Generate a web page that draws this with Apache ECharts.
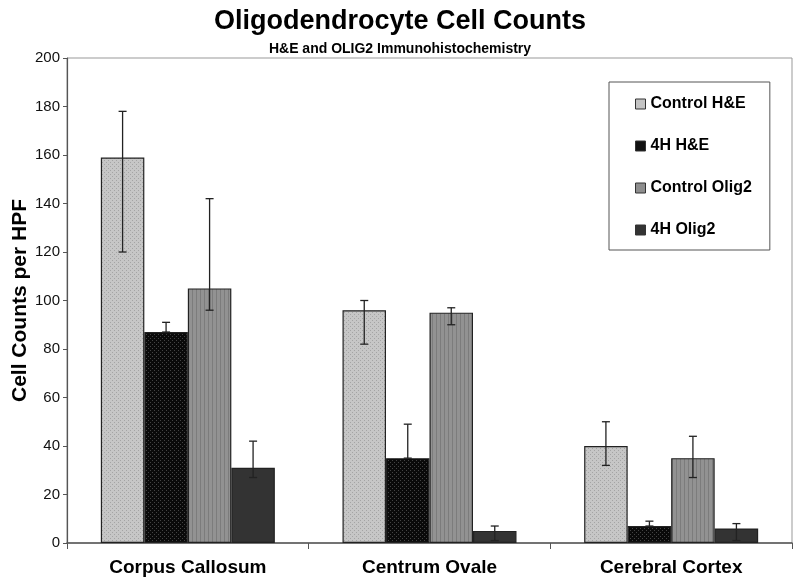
<!DOCTYPE html>
<html><head><meta charset="utf-8">
<script src="https://cdn.jsdelivr.net/npm/echarts@6/dist/echarts.min.js"></script>
<style>html,body{margin:0;padding:0;background:#fff}#c{width:800px;height:584px}</style>
</head><body><div id="c"></div>
<script>
const categories = ['Corpus Callosum', 'Centrum Ovale', 'Cerebral Cortex'];
const seriesNames = ['Control H&E', '4H H&E', 'Control Olig2', '4H Olig2'];
const controlHE = [159, 96, 40];
const h4HE = [87, 35, 7];
const controlOlig2 = [105, 95, 35];
const h4Olig2 = [31, 5, 6];
const errLow = [[120, 82, 32], [87, 35, 7], [96, 90, 27], [27, 1, 1]];
const errHigh = [[178, 100, 50], [91, 49, 9], [142, 97, 44], [42, 7, 8]];
const yTicks = [0, 20, 40, 60, 80, 100, 120, 140, 160, 180, 200];

function pattern(bg, fg, kind) {
  const c = document.createElement('canvas');
  c.width = 4; c.height = 4;
  const g = c.getContext('2d');
  g.fillStyle = bg; g.fillRect(0, 0, 4, 4);
  g.fillStyle = fg;
  if (kind === 'dots') { g.fillRect(0, 0, 1, 1); g.fillRect(2, 2, 1, 1); }
  else if (kind === 'stripes') { g.fillRect(0, 0, 1, 4); }
  return c;
}
const fills = [
  {image: pattern('#c6c6c6', '#a4a4a4', 'dots'), repeat: 'repeat'},
  {image: pattern('#0a0a0a', '#444', 'dots'), repeat: 'repeat'},
  {image: pattern('#929292', '#7c7c7c', 'stripes'), repeat: 'repeat'},
  '#333333'
];
const legendColors = ['#c4c4c4', '#111111', '#8e8e8e', '#333333'];
const values = [controlHE, h4HE, controlOlig2, h4Olig2];
const GAP = 0.28;

const chart = echarts.init(document.getElementById('c'), null, {renderer: 'canvas'});
const series = values.map((v, i) => ({
  name: seriesNames[i], type: 'bar', data: v,
  barGap: '0%', barCategoryGap: (GAP * 100) + '%',
  itemStyle: {color: fills[i], borderColor: '#222', borderWidth: 1.2},
  emphasis: {disabled: true}
}));
values.forEach((v, i) => {
  series.push({
    type: 'custom', name: seriesNames[i] + ' err', z: 10,
    data: categories.map((c, k) => [k, errLow[i][k], errHigh[i][k]]),
    renderItem: function (params, api) {
      const k = api.value(0);
      const catW = api.size([1, 0])[0];
      const bw = catW * (1 - GAP) / 4;
      const lo = api.coord([k, api.value(1)]);
      const hi = api.coord([k, api.value(2)]);
      const x = lo[0] + (i - 1.5) * bw;
      const cap = 4;
      const st = {stroke: '#222', lineWidth: 1.3};
      return {type: 'group', children: [
        {type: 'line', shape: {x1: x, y1: lo[1], x2: x, y2: hi[1]}, style: st},
        {type: 'line', shape: {x1: x - cap, y1: hi[1], x2: x + cap, y2: hi[1]}, style: st},
        {type: 'line', shape: {x1: x - cap, y1: lo[1], x2: x + cap, y2: lo[1]}, style: st}
      ]};
    },
    silent: true
  });
});

chart.setOption({
  animation: false,
  backgroundColor: '#fff',
  title: [
    {text: 'Oligodendrocyte Cell Counts', left: 'center', top: 3,
     textStyle: {fontFamily: 'Liberation Sans, Arial', fontSize: 27, fontWeight: 'bold', color: '#000'}},
    {text: 'H&E and OLIG2 Immunohistochemistry', left: 'center', top: 37,
     textStyle: {fontFamily: 'Liberation Sans, Arial', fontSize: 14, fontWeight: 'bold', color: '#000'}}
  ],
  legend: {
    orient: 'vertical', left: 609, top: 82,
    data: seriesNames.map((n, i) => ({name: n, itemStyle: {color: legendColors[i], borderColor: '#333', borderWidth: 1}})),
    icon: 'rect', itemWidth: 10, itemHeight: 10, itemGap: 26,
    padding: [14, 18, 12, 26],
    borderColor: '#555', borderWidth: 1, backgroundColor: '#fff',
    textStyle: {fontFamily: 'Liberation Sans, Arial', fontSize: 16, fontWeight: 'bold', color: '#000'},
    selectedMode: false
  },
  grid: {left: 67, right: 8, top: 58, bottom: 41, containLabel: false, outerBoundsMode: 'none',
    show: true, borderColor: '#999', borderWidth: 1, backgroundColor: 'transparent'},
  xAxis: {
    type: 'category', data: categories,
    axisLine: {lineStyle: {color: '#555', width: 1.5}},
    axisTick: {show: true, alignWithLabel: false, length: 6, lineStyle: {color: '#555'}},
    axisLabel: {margin: 15, fontFamily: 'Liberation Sans, Arial', fontSize: 19, fontWeight: 'bold', color: '#000'}
  },
  yAxis: {
    type: 'value', min: 0, max: 200, interval: 20,
    name: 'Cell Counts per HPF', nameLocation: 'middle', nameGap: 36, nameMoveOverlap: false,
    nameTextStyle: {fontFamily: 'Liberation Sans, Arial', fontSize: 21, fontWeight: 'bold', color: '#000'},
    axisLine: {show: true, lineStyle: {color: '#555', width: 1.2}},
    axisTick: {show: true, length: 4, lineStyle: {color: '#555'}},
    splitLine: {show: false},
    axisLabel: {fontFamily: 'Liberation Sans, Arial', fontSize: 15, color: '#111', margin: 7,
      formatter: v => yTicks.includes(v) ? String(v) : ''}
  },
  series: series
});
</script></body></html>
